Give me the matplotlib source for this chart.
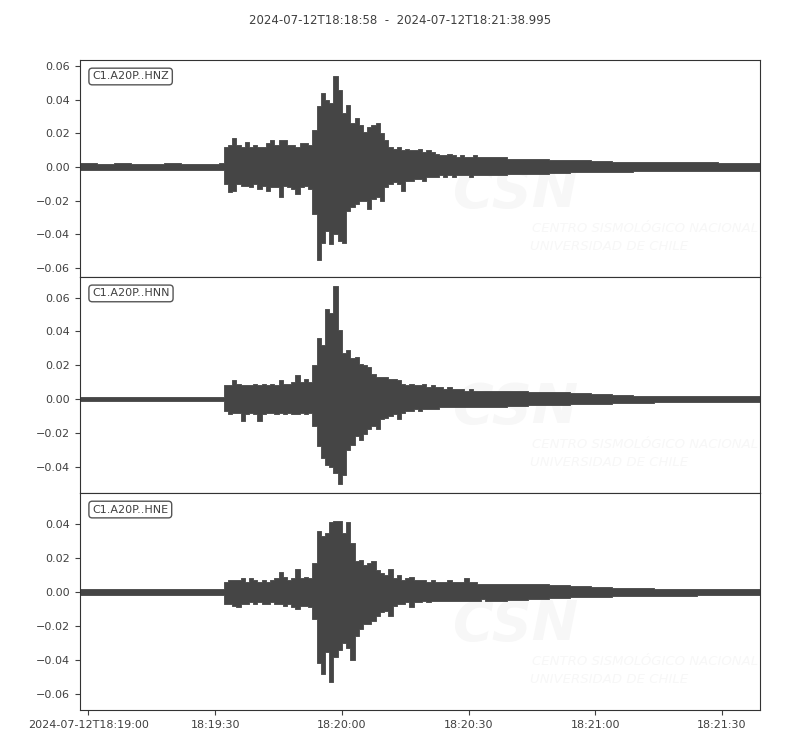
import numpy as np
import matplotlib.pyplot as plt

title = "2024-07-12T18:18:58  -  2024-07-12T18:21:38.995"
channels = ["C1.A20P..HNZ", "C1.A20P..HNN", "C1.A20P..HNE"]
duration = 160.995  # seconds after 18:18:58

# start of each amplitude bin (s after 18:18:58); coarse in the quiet parts
bin_start = list(range(0, 32, 4)) + list(range(32, 96)) + list(range(96, 161, 5))

# max / min amplitude per bin
hnz_max = [0.0022, 0.0020, 0.0022, 0.0021, 0.0020, 0.0022, 0.0021, 0.0020,
           0.0021, 0.0022,
           0.012, 0.013, 0.017, 0.013, 0.012, 0.015, 0.012, 0.013, 0.012, 0.012,
           0.014, 0.016, 0.013, 0.016, 0.016, 0.013, 0.013, 0.012, 0.014, 0.014,
           0.013, 0.022, 0.036, 0.044, 0.040, 0.038, 0.054, 0.046, 0.032, 0.037,
           0.026, 0.029, 0.025, 0.021, 0.024, 0.025, 0.026, 0.020, 0.016, 0.012,
           0.011, 0.012, 0.010, 0.011, 0.010, 0.010, 0.011, 0.009, 0.010, 0.009,
           0.008, 0.007, 0.007, 0.008, 0.007, 0.006, 0.007, 0.006, 0.006, 0.007,
           0.006, 0.006,
           0.006, 0.005, 0.005, 0.004, 0.004, 0.0035, 0.003, 0.003, 0.003, 0.003,
           0.0028, 0.0026, 0.0025]
hnz_min = [-0.0018, -0.0019, -0.0018, -0.0020, -0.0018, -0.0019, -0.0018, -0.0019,
           -0.0019, -0.0018,
           -0.010, -0.015, -0.014, -0.010, -0.011, -0.011, -0.012, -0.010, -0.013, -0.011,
           -0.014, -0.012, -0.012, -0.018, -0.011, -0.012, -0.013, -0.016, -0.012, -0.011,
           -0.013, -0.028, -0.055, -0.045, -0.038, -0.046, -0.040, -0.044, -0.045, -0.026,
           -0.024, -0.022, -0.020, -0.020, -0.025, -0.019, -0.018, -0.020, -0.012, -0.010,
           -0.009, -0.010, -0.014, -0.008, -0.008, -0.007, -0.007, -0.008, -0.006, -0.006,
           -0.006, -0.005, -0.006, -0.005, -0.006, -0.005, -0.005, -0.005, -0.006, -0.005,
           -0.005, -0.005,
           -0.005, -0.004, -0.004, -0.0036, -0.0032, -0.003, -0.0028, -0.0026, -0.0025,
           -0.0024, -0.0023, -0.0022, -0.0022]

hnn_max = [0.0012, 0.0013, 0.0012, 0.0011, 0.0012, 0.0013, 0.0012, 0.0012,
           0.0012, 0.0013,
           0.008, 0.008, 0.011, 0.009, 0.008, 0.008, 0.008, 0.009, 0.008, 0.009,
           0.008, 0.009, 0.008, 0.011, 0.009, 0.009, 0.010, 0.014, 0.010, 0.012,
           0.010, 0.020, 0.036, 0.032, 0.053, 0.051, 0.067, 0.041, 0.027, 0.029,
           0.024, 0.025, 0.021, 0.020, 0.019, 0.015, 0.013, 0.013, 0.013, 0.012,
           0.012, 0.011, 0.009, 0.008, 0.009, 0.008, 0.008, 0.009, 0.007, 0.008,
           0.007, 0.007, 0.006, 0.007, 0.006, 0.006, 0.006, 0.005, 0.006, 0.005,
           0.005, 0.005,
           0.005, 0.0045, 0.0043, 0.004, 0.0035, 0.003, 0.0024, 0.002, 0.002, 0.0018,
           0.0018, 0.0018, 0.0017]
hnn_min = [-0.0012, -0.0012, -0.0013, -0.0012, -0.0011, -0.0012, -0.0013, -0.0012,
           -0.0012, -0.0012,
           -0.007, -0.009, -0.008, -0.008, -0.013, -0.009, -0.008, -0.009, -0.013, -0.009,
           -0.008, -0.008, -0.009, -0.008, -0.009, -0.008, -0.009, -0.009, -0.008, -0.009,
           -0.008, -0.016, -0.028, -0.035, -0.039, -0.040, -0.044, -0.050, -0.045, -0.030,
           -0.027, -0.022, -0.024, -0.021, -0.018, -0.016, -0.018, -0.012, -0.011, -0.010,
           -0.009, -0.012, -0.008, -0.007, -0.007, -0.006, -0.007, -0.006, -0.006, -0.006,
           -0.006, -0.005, -0.005, -0.005, -0.005, -0.005, -0.005, -0.0045, -0.005, -0.0045,
           -0.0045, -0.0045,
           -0.0045, -0.004, -0.0035, -0.0035, -0.003, -0.003, -0.0026, -0.0022, -0.002,
           -0.0019, -0.0018, -0.0018, -0.0018]

hne_max = [0.0017, 0.0016, 0.0017, 0.0018, 0.0017, 0.0016, 0.0017, 0.0017,
           0.0017, 0.0017,
           0.006, 0.007, 0.007, 0.007, 0.008, 0.006, 0.008, 0.007, 0.006, 0.007,
           0.006, 0.007, 0.008, 0.012, 0.009, 0.007, 0.008, 0.0135, 0.008, 0.009,
           0.008, 0.017, 0.036, 0.033, 0.035, 0.041, 0.042, 0.042, 0.035, 0.041,
           0.029, 0.018, 0.019, 0.016, 0.017, 0.018, 0.013, 0.011, 0.010, 0.0135,
           0.008, 0.010, 0.007, 0.008, 0.009, 0.007, 0.007, 0.007, 0.006, 0.007,
           0.006, 0.006, 0.006, 0.007, 0.006, 0.006, 0.006, 0.008, 0.006, 0.006,
           0.005, 0.005,
           0.005, 0.005, 0.0045, 0.004, 0.0035, 0.003, 0.0025, 0.0022, 0.002, 0.002,
           0.002, 0.002, 0.002]
hne_min = [-0.0017, -0.0017, -0.0016, -0.0017, -0.0018, -0.0017, -0.0017, -0.0016,
           -0.0017, -0.0017,
           -0.007, -0.007, -0.008, -0.009, -0.007, -0.007, -0.006, -0.007, -0.006, -0.007,
           -0.007, -0.006, -0.007, -0.007, -0.008, -0.007, -0.009, -0.010, -0.008, -0.008,
           -0.009, -0.016, -0.042, -0.048, -0.035, -0.053, -0.038, -0.034, -0.030, -0.033,
           -0.040, -0.026, -0.022, -0.019, -0.019, -0.017, -0.014, -0.012, -0.011, -0.014,
           -0.008, -0.007, -0.007, -0.006, -0.009, -0.006, -0.006, -0.005, -0.006, -0.005,
           -0.005, -0.005, -0.005, -0.005, -0.005, -0.005, -0.005, -0.005, -0.005, -0.005,
           -0.005, -0.004,
           -0.005, -0.0045, -0.004, -0.0035, -0.003, -0.003, -0.0025, -0.0024, -0.0022,
           -0.0022, -0.002, -0.002, -0.002]

tick_pos = [2, 32, 62, 92, 122, 152]
tick_labels = ["2024-07-12T18:19:00", "18:19:30", "18:20:00",
               "18:20:30", "18:21:00", "18:21:30"]
y_limits = [(-0.0653, 0.0636), (-0.0556, 0.0722), (-0.0694, 0.0582)]
y_ticks = [[-0.06, -0.04, -0.02, 0.0, 0.02, 0.04, 0.06],
           [-0.04, -0.02, 0.0, 0.02, 0.04, 0.06],
           [-0.06, -0.04, -0.02, 0.0, 0.02, 0.04]]

trace_color = '#454545'
text_color = '#404040'
mark_color = '#f7f7f7'

fig = plt.figure(figsize=(8, 7.5), dpi=100)
fig.suptitle(title, y=0.982, fontsize=8.5, color=text_color)

edges = bin_start + [duration]
traces = [(hnz_max, hnz_min), (hnn_max, hnn_min), (hne_max, hne_min)]
bottoms = [0.6307, 0.3427, 0.0533]
heights = [0.2893, 0.2880, 0.2893]

for i, (hi, lo) in enumerate(traces):
    ax = fig.add_axes([0.1, bottoms[i], 0.85, heights[i]])

    # faint CSN watermark
    ax.text(0.548, 0.323, "CSN", transform=ax.transAxes, fontsize=40,
            fontweight='bold', fontstyle='italic', color=mark_color, zorder=0)
    ax.text(0.664, 0.207, "CENTRO SISMOLÓGICO NACIONAL", transform=ax.transAxes,
            fontsize=9.5, fontstyle='italic', color=mark_color, zorder=0)
    ax.text(0.662, 0.124, "UNIVERSIDAD DE CHILE", transform=ax.transAxes,
            fontsize=9.5, fontstyle='italic', color=mark_color, zorder=0)

    # per-bin max/min envelope, like a min/max decimated waveform
    ax.fill_between(edges, list(lo) + [lo[-1]], list(hi) + [hi[-1]], step='post',
                    color=trace_color, lw=0.6, zorder=2)

    ax.set_xlim(0, duration)
    ax.set_ylim(*y_limits[i])
    ax.set_yticks(y_ticks[i])
    ax.set_xticks(tick_pos)
    ax.tick_params(labelsize=8, colors=text_color)
    for sp in ax.spines.values():
        sp.set_color('#333333')
    if i < 2:
        ax.tick_params(axis='x', bottom=False, labelbottom=False)
    else:
        ax.set_xticklabels(tick_labels)

    ax.text(0.018, 0.947, channels[i], transform=ax.transAxes, va='top', ha='left',
            fontsize=8, color=text_color, zorder=5,
            bbox=dict(boxstyle='round,pad=0.3', fc='white', ec='#555555', lw=1))

fig.savefig('out.png', dpi=100)
